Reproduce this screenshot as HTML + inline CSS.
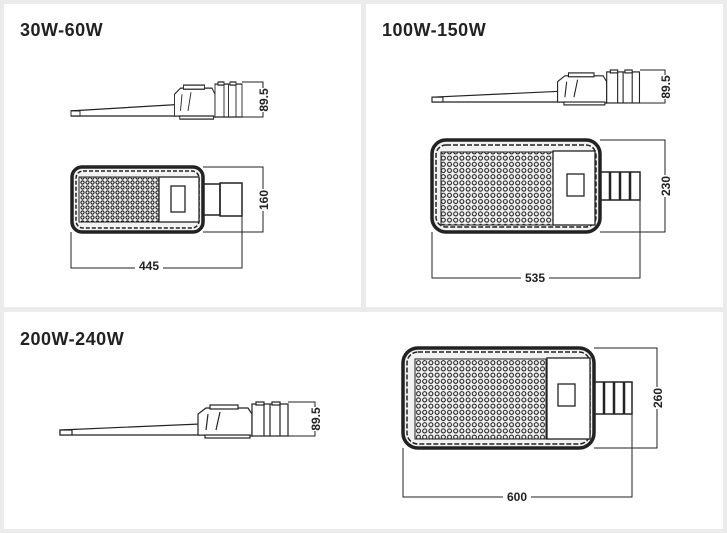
<!DOCTYPE html>
<html><head><meta charset="utf-8"><style>
html,body{margin:0;padding:0;background:#ebebeb;width:727px;height:533px;overflow:hidden}
svg{display:block}
text{font-family:"Liberation Sans",Arial,sans-serif;fill:#222}
</style></head><body>
<svg width="727" height="533" viewBox="0 0 727 533" xmlns="http://www.w3.org/2000/svg">
<defs>
<pattern id="d1" width="5" height="5" patternUnits="userSpaceOnUse"><circle cx="2.5" cy="2.5" r="1.6" fill="none" stroke="#111" stroke-width="1"/></pattern>
<pattern id="d2" width="6.2" height="6.2" patternUnits="userSpaceOnUse"><circle cx="3.1" cy="3.1" r="2" fill="none" stroke="#111" stroke-width="1"/></pattern>
<g id="side" fill="#fff" stroke="#222" stroke-width="1.2">
  <path d="M0,28 L140,22 L140,33 L0,33 Z"/>
  <rect x="0" y="28" width="12" height="5"/>
  <path d="M138,33 L138,12 L146,6 L188,6 L192,12 L192,34 Z"/>
  <path d="M148,12 L146,28 M160,10 L156,28"/>
  <rect x="150" y="3" width="28" height="4"/>
  <rect x="145" y="33" width="45" height="3"/>
  <rect x="192" y="2" width="36" height="32"/>
  <rect x="196" y="0" width="8" height="3"/>
  <rect x="212" y="0" width="8" height="3"/>
  <path d="M204,2 V34 M210,2 V34 M220,2 V34"/>
</g>
</defs>
<rect x="4" y="4" width="357" height="303" fill="#fff"/>
<rect x="366" y="4" width="357" height="303" fill="#fff"/>
<rect x="4" y="312" width="719" height="217" fill="#fff"/>

<text x="20" y="36" font-size="18" font-weight="bold" letter-spacing="0.5">30W-60W</text>
<text x="382" y="36" font-size="18" font-weight="bold" letter-spacing="0.5">100W-150W</text>
<text x="20" y="345" font-size="18" font-weight="bold" letter-spacing="0.5">200W-240W</text>

<g fill="none" stroke="#222" stroke-width="1">
<use href="#side" transform="translate(71,82) scale(0.75,1.03)"/>
<path d="M242,82 H263 V117 H242"/>
<rect x="72" y="167" width="131" height="65" rx="10" fill="#f2f2f2" stroke-width="3.5"/>
<rect x="76" y="171" width="123" height="57" rx="7" stroke-dasharray="4,2" stroke-width="1.5"/>
<rect x="79" y="177" width="80" height="45" fill="url(#d1)"/>
<rect x="159" y="177" width="40" height="45" fill="#fff" stroke-width="1.3"/>
<rect x="171" y="186" width="14" height="26" stroke-width="1.3"/>
<rect x="203" y="184" width="17" height="31" stroke-width="1.5"/>
<rect x="220" y="183" width="22" height="33" stroke-width="1.5"/>
<path d="M203,167 H263 V232 H203 M71,232 V268 H242 V215"/>
<use href="#side" transform="translate(432,70) scale(0.91,0.97)"/>
<path d="M640,70 H665 V103 H640"/>
<rect x="432" y="140" width="168" height="92" rx="14" fill="#f2f2f2" stroke-width="3.5"/>
<rect x="436" y="145" width="160" height="82" rx="10" stroke-dasharray="5,2" stroke-width="1.5"/>
<rect x="441" y="152" width="112" height="73" fill="url(#d2)"/>
<rect x="553" y="151" width="42" height="74" fill="#fff" stroke-width="1.3"/>
<rect x="567" y="174" width="17" height="22" stroke-width="1.3"/>
<rect x="600" y="172" width="40" height="28" stroke-width="1.5"/>
<path d="M610,172 V200 M620,172 V200 M630,172 V200" stroke-width="2.5"/>
<path d="M600,140 H665 V232 H600 M432,232 V278 H640 V200"/>
<use href="#side" transform="translate(60,402)"/>
<path d="M288,402 H315 V436 H288"/>
<rect x="403" y="348" width="191" height="100" rx="15" fill="#f2f2f2" stroke-width="3.5"/>
<rect x="407" y="352" width="183" height="92" rx="11" stroke-dasharray="5,2" stroke-width="1.5"/>
<rect x="415" y="359" width="131" height="80" fill="url(#d2)"/>
<rect x="547" y="358" width="43" height="81" fill="#fff" stroke-width="1.3"/>
<rect x="558" y="384" width="17" height="22" stroke-width="1.3"/>
<rect x="594" y="382" width="38" height="32" stroke-width="1.5"/>
<path d="M604,382 V414 M614,382 V414 M624,382 V414" stroke-width="2.5"/>
<path d="M594,348 H657 V448 H594 M403,448 V497 H632 V414"/>
</g>

<g font-size="12" font-weight="bold">
<rect x="135" y="260" width="28" height="14" fill="#fff"/>
<text x="149" y="270" text-anchor="middle">445</text>
<rect x="521" y="272" width="28" height="14" fill="#fff"/>
<text x="535" y="282" text-anchor="middle">535</text>
<rect x="503" y="490" width="28" height="14" fill="#fff"/>
<text x="517" y="501" text-anchor="middle">600</text>
<g transform="translate(268,200) rotate(-90)"><rect x="-11" y="-10" width="22" height="14" fill="#fff"/><text x="0" y="0" text-anchor="middle">160</text></g>
<g transform="translate(670,186) rotate(-90)"><rect x="-11" y="-10" width="22" height="14" fill="#fff"/><text x="0" y="0" text-anchor="middle">230</text></g>
<g transform="translate(662,398) rotate(-90)"><rect x="-11" y="-10" width="22" height="14" fill="#fff"/><text x="0" y="0" text-anchor="middle">260</text></g>
<g transform="translate(268,100) rotate(-90)"><rect x="-12" y="-10" width="24" height="14" fill="#fff"/><text x="0" y="0" text-anchor="middle">89.5</text></g>
<g transform="translate(670,87) rotate(-90)"><rect x="-12" y="-10" width="24" height="14" fill="#fff"/><text x="0" y="0" text-anchor="middle">89.5</text></g>
<g transform="translate(320,419) rotate(-90)"><rect x="-12" y="-10" width="24" height="14" fill="#fff"/><text x="0" y="0" text-anchor="middle">89.5</text></g>
</g>
</svg>
</body></html>
